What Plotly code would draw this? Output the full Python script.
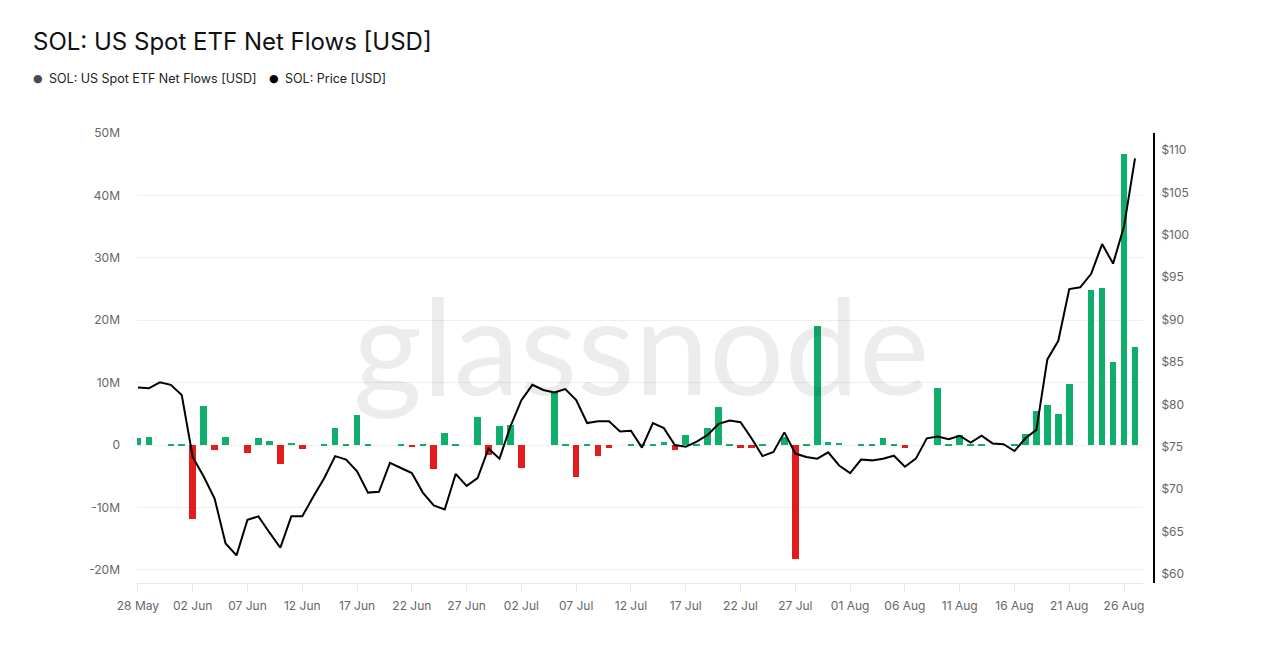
import pandas as pd
import plotly.graph_objects as go

# ---- data ----
start_date = "2026-05-28"
n_days = 92
dates = pd.date_range(start_date, periods=n_days, freq="D")

price = [82.0, 81.9, 82.6, 82.3, 81.1, 73.8, 71.5, 68.9, 63.6, 62.2,
         66.4, 66.8, 64.9, 63.1, 66.8, 66.8, 69.1, 71.3, 73.9, 73.5,
         72.1, 69.6, 69.7, 73.1, 72.5, 71.9, 69.6, 68.1, 67.6, 71.8,
         70.4, 71.3, 74.8, 73.6, 77.4, 80.5, 82.3, 81.7, 81.4, 81.8,
         80.5, 77.8, 78.0, 78.0, 76.8, 76.9, 74.9, 77.8, 77.2, 75.2,
         75.0, 75.6, 76.4, 77.7, 78.1, 77.9, 76.0, 73.9, 74.4, 76.7,
         74.2, 73.8, 73.6, 74.35, 72.8, 71.9, 73.5, 73.4, 73.6, 73.95,
         72.65, 73.6, 76.0, 76.2, 75.9, 76.3, 75.5, 76.3, 75.4, 75.3,
         74.5, 76.0, 77.0, 85.3, 87.5, 93.6, 93.8, 95.4, 98.9, 96.6,
         101.0, 109.0]

# net flows in millions USD (None = no flow reported)
flows_m = [1.07, 1.23, None, 0.25, 0.2, -11.8, 6.3, -0.85, 1.23, None,
           -1.23, 1.1, 0.72, -3.05, 0.37, -0.7, None, 0.15, 2.8, 0.2,
           4.75, 0.15, None, None, 0.2, -0.3, 0.2, -3.8, 2.0, 0.1,
           None, 4.43, -1.55, 3.1, 3.2, -3.6, None, None, 8.5, 0.2,
           -5.07, 0.15, -1.7, -0.5, None, 0.15, 0.15, 0.2, 0.5, -0.82,
           1.68, 0.15, 2.67, 6.03, 0.15, -0.53, -0.45, 0.2, None, 1.33,
           -18.3, 0.2, 19.0, 0.48, 0.37, None, 0.15, 0.15, 1.17, 0.15,
           -0.53, None, None, 9.08, 0.2, 1.6, 0.2, 0.2, None, None,
           0.2, 1.76, 5.45, 6.36, 4.9, 9.78, None, 24.9, 25.2, 13.25,
           46.6, 15.65]

left_ticks_m = [-20, -10, 0, 10, 20, 30, 40, 50]
left_tick_text = ["-20M", "-10M", "0", "10M", "20M", "30M", "40M", "50M"]
right_ticks = [60, 65, 70, 75, 80, 85, 90, 95, 100, 105, 110]
right_tick_text = ["$" + str(v) for v in right_ticks]
x_tick_dates = pd.date_range(start_date, periods=19, freq="5D")

series_names = ["SOL: US Spot ETF Net Flows [USD]", "SOL: Price [USD]"]
series_dot_colors = ["#4A4A52", "#000000"]

# ---- styling ----
GREEN = "#10AE6B"
RED = "#E31B1B"
FONT = "Inter, Roboto, 'Open Sans', sans-serif"

W, H = 1280, 649
ML, MR, MT, MB = 137, 126, 133, 66
PW, PH = W - ML - MR, H - MT - MB


def px(x):
    return (x - ML) / PW


def py(y):
    return (H - MB - y) / PH


flows = [None if v is None else v * 1e6 for v in flows_m]
bar_colors = [RED if (v is not None and v < 0) else GREEN for v in flows_m]

fig = go.Figure()
fig.add_trace(go.Bar(
    x=dates, y=flows, marker=dict(color=bar_colors, line=dict(width=0)),
    width=0.6 * 86400000, showlegend=False, name=series_names[0],
))
fig.add_trace(go.Scatter(
    x=dates, y=price, yaxis="y2", mode="lines",
    line=dict(color="#000000", width=2), showlegend=False, name=series_names[1],
))

x0 = pd.Timestamp(start_date) - pd.Timedelta(hours=2)
x1 = pd.Timestamp(start_date) + pd.Timedelta(days=91.73)

annotations = [dict(
    text="glassnode", x=px(641), y=py(343), xref="paper", yref="paper",
    xanchor="center", yanchor="middle", showarrow=False,
    font=dict(size=133, color="rgba(0,0,0,0.075)", family="Lato, sans-serif"),
)]
# legend row (dot + label)
legend_dot_x = [38.3, 274.0]
legend_text_x = [47.0, 283.0]
for name, col, dx, tx in zip(series_names, series_dot_colors, legend_dot_x, legend_text_x):
    annotations.append(dict(
        text="●", x=px(dx), y=py(79), xref="paper", yref="paper",
        xanchor="center", yanchor="middle", showarrow=False,
        font=dict(size=11, color=col, family="DejaVu Sans"),
    ))
    annotations.append(dict(
        text=name, x=px(tx), y=py(79), xref="paper", yref="paper",
        xanchor="left", yanchor="middle", showarrow=False,
        font=dict(size=12.5, color="#222222", family=FONT),
    ))

fig.update_layout(
    width=W, height=H,
    paper_bgcolor="white", plot_bgcolor="white",
    margin=dict(l=ML, r=MR, t=MT, b=MB),
    font=dict(family=FONT, color="#555555", size=12),
    title=dict(text="SOL: US Spot ETF Net Flows [USD]", x=33 / W, xanchor="left",
               xref="container", y=1 - 42 / H, yanchor="middle", yref="container",
               font=dict(size=24, color="#111111", family=FONT)),
    showlegend=False,
    bargap=0,
    xaxis=dict(
        type="date", range=[x0, x1], domain=[0, (1143 - ML) / PW],
        tickvals=list(x_tick_dates), tickformat="%d %b",
        showgrid=False, showline=True, linecolor="#e8e8e8", linewidth=1,
        ticks="outside", ticklen=8, tickcolor="#e8e8e8", ticklabelstandoff=4,
        tickfont=dict(size=12, color="#666666"), zeroline=False,
    ),
    yaxis=dict(
        range=[-22.1e6, 50.0e6], tickvals=[v * 1e6 for v in left_ticks_m],
        ticktext=left_tick_text, showgrid=True, gridcolor="#efefef", gridwidth=1,
        zeroline=False, showline=False, ticks="", ticklabelstandoff=16,
        tickfont=dict(size=12, color="#666666"),
    ),
    yaxis2=dict(
        overlaying="y", side="right", anchor="free", position=1.0,
        range=[58.94, 112.0], tickvals=right_ticks, ticktext=right_tick_text,
        showgrid=False, zeroline=False, showline=True, linecolor="#000000",
        linewidth=2, ticks="", ticklabelstandoff=4,
        tickfont=dict(size=12, color="#666666"),
    ),
    annotations=annotations,
)

fig.write_html("out.html", config={"displayModeBar": False},
               post_script="document.body.style.margin='0px';")
